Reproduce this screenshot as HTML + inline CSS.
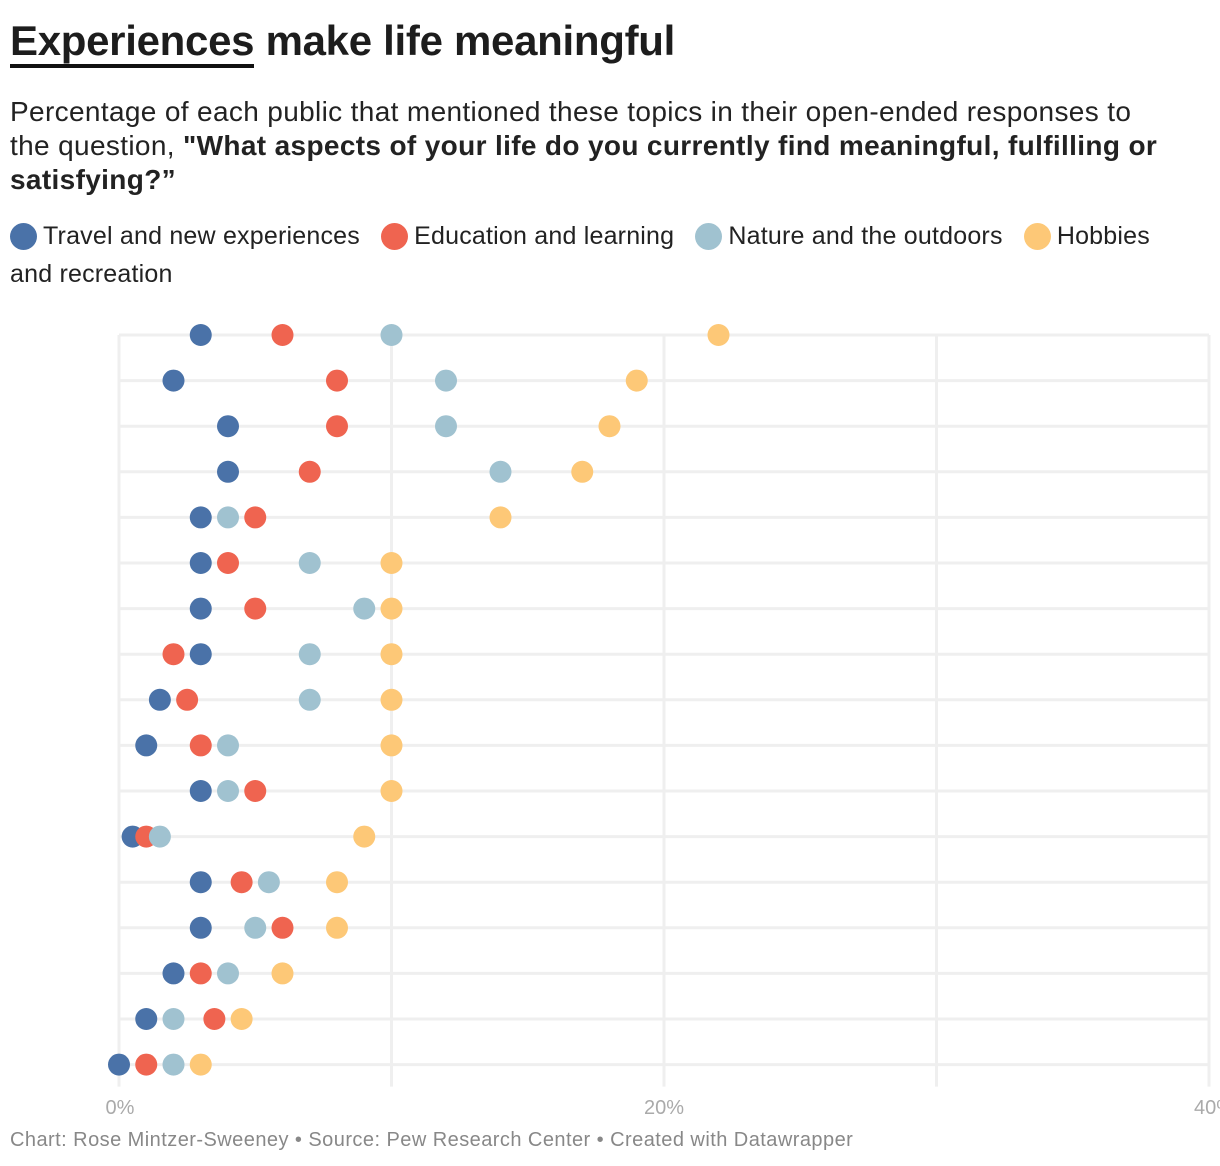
<!DOCTYPE html>
<html><head><meta charset="utf-8"><style>
body{margin:0;width:1220px;height:1166px;background:#fff;font-family:"Liberation Sans",sans-serif;color:#1d1d1d;overflow:hidden;position:relative}
#title{position:absolute;left:10px;top:17px;font-size:42px;font-weight:bold;margin:0;letter-spacing:-0.3px}
#title u{text-decoration:none;border-bottom:4px solid #111}
#sub{position:absolute;left:10px;top:95px;font-size:28px;line-height:34px;width:1210px;color:#222;letter-spacing:0.35px;white-space:nowrap}
#legend{position:absolute;left:10px;top:217px;font-size:25px;line-height:38px;color:#222;width:1170px;letter-spacing:0.2px}
.li{display:inline;margin-right:14px}
.dot{display:inline-block;width:27px;height:27px;border-radius:50%;vertical-align:-6px;margin-right:6px}
#foot{position:absolute;left:10px;top:1129px;font-size:20px;color:#888;letter-spacing:0.45px}
svg{position:absolute;left:0;top:0}
</style></head><body>
<h1 id="title"><u>Experiences</u> make life meaningful</h1>
<div id="sub">Percentage of each public that mentioned these topics in their open-ended responses to<br>the question, <b>"What aspects of your life do you currently find meaningful, fulfilling or<br>satisfying?”</b></div>
<div id="legend">
<span class="li"><span class="dot" style="background:#4a72a8"></span>Travel and new experiences</span>
<span class="li"><span class="dot" style="background:#ef6450"></span>Education and learning</span>
<span class="li"><span class="dot" style="background:#a0c2d0"></span>Nature and the outdoors</span>
<span class="li"><span class="dot" style="background:#fdc877"></span>Hobbies and recreation</span>
</div>
<svg id="chart" width="1220" height="1166"></svg>
<div id="foot">Chart: Rose Mintzer-Sweeney • Source: Pew Research Center • Created with Datawrapper</div>
<script>
const travel=[3,2,4,4,3,3,3,3,1.5,1,3,0.5,3,3,2,1,0];
const education=[6,8,8,7,5,4,5,2,2.5,3,5,1,4.5,6,3,3.5,1];
const nature=[10,12,12,14,4,7,9,7,7,4,4,1.5,5.5,5,4,2,2];
const hobbies=[22,19,18,17,14,10,10,10,10,10,10,9,8,8,6,4.5,3];
const ticks=[0,10,20,30,40];
const tickLabels=["0%","","20%","","40%"];
const svg=document.getElementById('chart');
const NS='http://www.w3.org/2000/svg';
const x0=119,x1=1209,y0=335,step=45.6;
const xs=v=>x0+(x1-x0)*v/40;
const ys=i=>y0+i*step;
const n=travel.length;
function mk(t,a){const e=document.createElementNS(NS,t);for(const k in a)e.setAttribute(k,a[k]);svg.appendChild(e);return e;}
ticks.forEach((t,i)=>{
  const g=mk('line',{x1:xs(t),x2:xs(t),y1:y0,y2:ys(n-1)+22,stroke:'#efefef','stroke-width':3});
  
  
  if(tickLabels[i]){
    const tx=mk('text',{x:xs(t),y:1114,'text-anchor':'middle','font-size':20,fill:'#aaa','font-family':'Liberation Sans, sans-serif'});
    if(i==0)tx.setAttribute('x',xs(t)+1);
    if(i==4)tx.setAttribute('x',xs(t)+5);
    tx.textContent=tickLabels[i];
    
    
  }
});
for(let i=0;i<n;i++){
  const l=mk('line',{x1:x0,x2:x1,y1:ys(i),y2:ys(i),stroke:'#efefef','stroke-width':3});
  
  
}
const series=[[travel,'#4a72a8','travel'],[education,'#ef6450','education'],[nature,'#a0c2d0','nature'],[hobbies,'#fdc877','hobbies']];
series.forEach(([arr,c,nm])=>{
  arr.forEach((v,i)=>{
    const d=mk('circle',{cx:xs(v),cy:ys(i),r:11,fill:c});
    
    
  });
});
</script>
</body></html>
